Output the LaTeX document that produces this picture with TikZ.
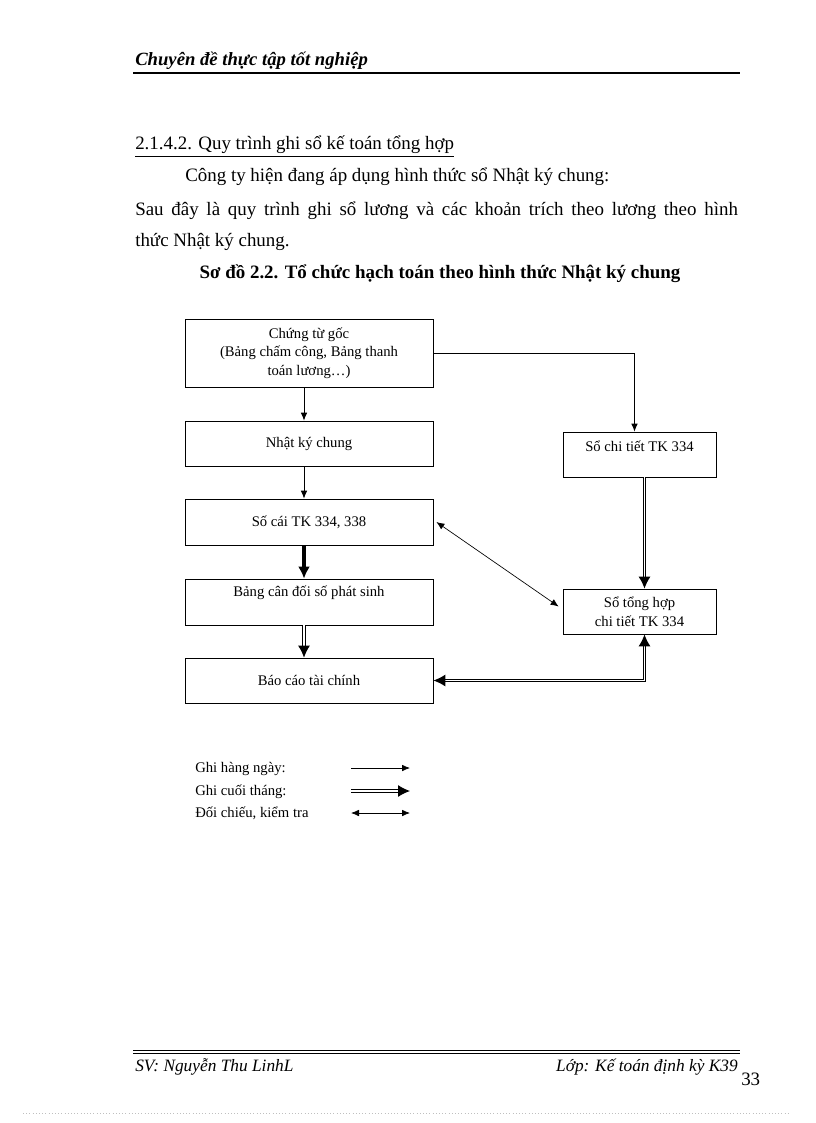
\documentclass[tikz,border=0pt]{standalone}
\usepackage{fontspec}
\setmainfont{Liberation Serif}
\usetikzlibrary{positioning,calc}
\usetikzlibrary{arrows.meta}
\tikzstyle{tips}=[%
	 btip/.tip = {Latex[length=6, width=5]},
	 gtip/.tip = {Latex[length=9, width=9]}]

\begin{document}
\begin{tikzpicture}[tips, x=0.75pt, y=-0.75pt, font=\fontsize{11}{14}\selectfont]
			\useasboundingbox (0,0) rectangle (816,1123);
			\def\myshift{5}
			\tikzstyle{noeud}=[draw, line width=0.6pt, minimum width=186pt, align=center, inner sep=2pt]
			\tikzstyle{petit}=[noeud, minimum width=114.75pt, minimum height=33.75pt]
			\tikzstyle{simple}=[line width=0.6pt, -btip]
			\tikzstyle{epais}=[line width=2.6pt, -gtip]
			\tikzstyle{doubletrait}=[double, double distance=1.4pt, line width=0.75pt, -gtip]
			\tikzstyle{corps}=[anchor=base west, inner sep=0pt, font=\fontsize{14.2}{17}\selectfont]
			% en-tete et texte
			\node[corps, font=\fontsize{14}{17}\selectfont\bfseries\itshape] (entete) at (135,66) {Chuyên đề thực tập tốt nghiệp};
			\draw[line width=1.6pt] (133,73) -- (740,73);
			\node[corps] (titre) at (135,150) {\underline{2.1.4.2. Quy trình ghi sổ kế toán tổng hợp}};
			\node[corps] (ligne1) at (185,182) {Công ty hiện đang áp dụng hình thức sổ Nhật ký chung:};
			\node[corps] (ligne2) at (135,215) {\makebox[452pt][s]{Sau đây là quy trình ghi sổ lương và các khoản trích theo lương theo hình}};
			\node[corps] (ligne3) at (135,246) {thức Nhật ký chung.};
			\node[corps, anchor=base, font=\fontsize{14.2}{17}\selectfont\bfseries] (schema) at (440,278) {Sơ đồ 2.2. Tổ chức hạch toán theo hình thức Nhật ký chung};
			% boites
			\node[noeud, minimum height=51pt] (goc) at (309,353) {Chứng từ gốc\\(Bảng chấm công, Bảng thanh\\toán lương…)};
			\node[noeud, minimum height=33.75pt] (nkc) at (309,443.5) {Nhật ký chung};
			\node[noeud, minimum height=34.5pt] (socai) at (309,522) {Số cái TK 334, 338};
			\node[noeud, minimum height=34.5pt, text height=8pt, text depth=17pt] (bcd) at (309,602) {Bảng cân đối số phát sinh};
			\node[noeud, minimum height=33.75pt] (bctc) at (309,680.5) {Báo cáo tài chính};
			\node[petit, text height=8pt, text depth=12pt] (sct) at (639.5,454.5) {Sổ chi tiết TK 334};
			\node[petit] (sth) at (639.5,611.5) {Sổ tổng hợp\\chi tiết TK 334};
			% fleches
			\draw[simple] ($(goc.south)+(-\myshift,0)$) -- ($(nkc.north)+(-\myshift,0)$);
			\draw[simple] ($(nkc.south)+(-\myshift,0)$) -- ($(socai.north)+(-\myshift,0)$);
			\draw[epais] ($(socai.south)+(-\myshift,0)$) -- ($(bcd.north)+(-\myshift,0)$);
			\draw[doubletrait] ($(bcd.south)+(-\myshift,0)$) -- ($(bctc.north)+(-\myshift,0)$);
			\draw[simple] (goc.east) -| ($(sct.north)+(-\myshift,0)$);
			\draw[doubletrait] ($(sct.south)+(\myshift,0)$) -- ($(sth.north)+(\myshift,0)$);
			\draw[doubletrait, gtip-gtip] (bctc.east) -| ($(sth.south)+(\myshift,0)$);
			\draw[line width=0.5pt, btip-btip] ($(socai.east)+(3,0)$) -- ($(sth.west)+(-4,-5)$);
			% legende
			\node[anchor=base west, inner sep=0pt] (hangngay) at (195,772) {Ghi hàng ngày:};
			\node[anchor=base west, inner sep=0pt] (cuoithang) at (195,795) {Ghi cuối tháng:};
			\node[anchor=base west, inner sep=0pt] (doichieu) at (195,817) {Đối chiếu, kiểm tra};
			\coordinate (a1) at (351,768); \coordinate (a2) at (410,768);
			\coordinate (b1) at (351,791); \coordinate (b2) at (410,791);
			\coordinate (c1) at (351,813); \coordinate (c2) at (410,813);
			\draw[simple] (a1) -- (a2);
			\draw[doubletrait] (b1) -- (b2);
			\draw[simple, btip-btip] (c1) -- (c2);
			% pied de page
			\draw[line width=0.6pt] (133,1050) -- (740,1050);
			\draw[line width=0.6pt] (133,1053.5) -- (740,1053.5);
			\node[corps, font=\fontsize{13}{16}\selectfont\itshape] (sv) at (135,1071) {SV: Nguyễn Thu LinhL};
			\node[corps, anchor=base east, font=\fontsize{13}{16}\selectfont\itshape] (lop) at (738,1071) {Lớp: Kế toán định kỳ K39};
			\node[corps] (page) at (741,1085) {33};
			\draw[gray!50, dotted] (23,1113) -- (790,1113);
		\end{tikzpicture}
\end{document}
